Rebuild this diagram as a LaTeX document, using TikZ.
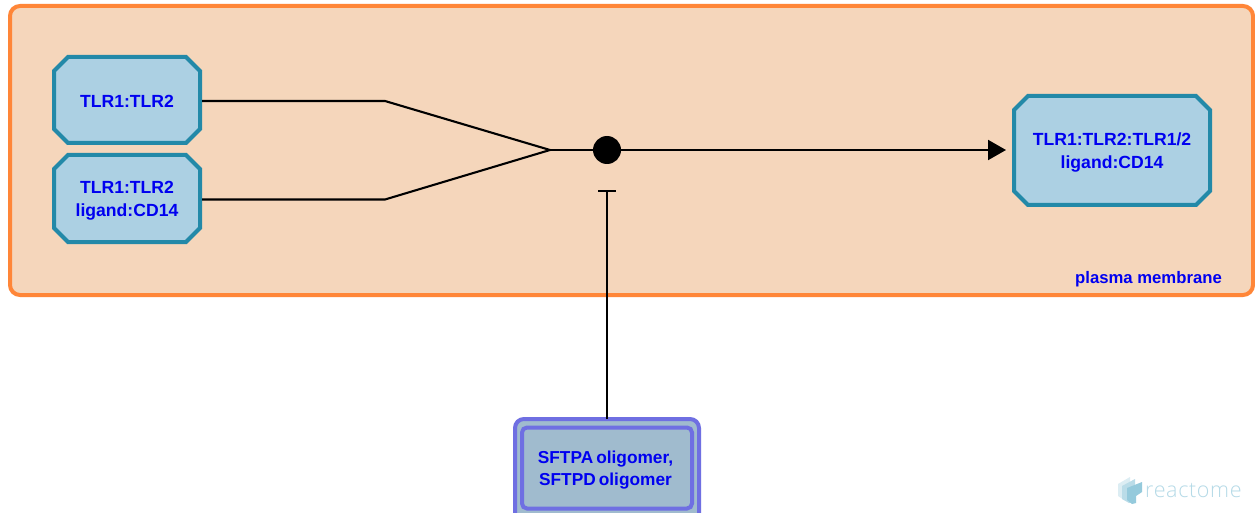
\documentclass[tikz,border=0pt]{standalone}
\usepackage{fontspec}
\setmainfont{Liberation Sans}
\newfontfamily\logofont[LetterSpace=3]{Open Sans Light}
\usetikzlibrary{shapes.misc,arrows.meta}
\definecolor{memfill}{HTML}{F5D6BB}
\definecolor{memline}{HTML}{FF8638}
\definecolor{cxfill}{HTML}{ACD0E3}
\definecolor{cxline}{HTML}{2389A8}
\definecolor{setfill}{HTML}{A0BBCE}
\definecolor{setline}{HTML}{6F6FE2}
\definecolor{lab}{HTML}{0000F0}
\definecolor{logoa}{HTML}{DCEDF3}
\definecolor{logob}{HTML}{BADCE8}
\definecolor{logoc}{HTML}{95CADC}
\newcommand\dropstrut[1]{\rule{0pt}{#1}}
\tikzset{
  x=1pt,y=-1pt,
  membrane/.style={draw=memline,fill=memfill,line width=4pt,rounded corners=10pt,minimum width=1243pt,minimum height=289pt,anchor=north west,inner sep=0pt,outer sep=0pt},
  complexbox/.style={chamfered rectangle,chamfered rectangle xsep=7.5pt,chamfered rectangle ysep=6.5pt,draw=cxline,fill=cxfill,line width=4pt,inner sep=0pt,outer sep=2pt,align=center,font=\fontsize{17.6}{22.5}\selectfont\bfseries,text=lab},
  setbox/.style={draw=setline,fill=setfill,line width=4pt,rounded corners=9pt,inner sep=0pt,outer sep=0pt,anchor=north west},
  setin/.style={draw=setline,line width=4pt,rounded corners=5pt,inner sep=0pt,outer sep=0pt,align=center,font=\fontsize{17.3}{22}\selectfont\bfseries,text=lab,anchor=north west},
  link/.style={draw=black,line width=2.1pt},
  junction/.style={circle,fill=black,minimum size=28pt,inner sep=0pt,outer sep=0pt},
  complabel/.style={font=\fontsize{16.7}{20}\selectfont\bfseries,text=lab,inner sep=0pt,anchor=base east}
}
\begin{document}
\begin{tikzpicture}
\useasboundingbox (0,0) rectangle (1255,513);
\clip (0,0) rectangle (1255,513);
\fill[white] (0,0) rectangle (1255,513);
\node[membrane] (pm) at (10,6) {};
\node[complabel] (pmlabel) at (1222,283) {plasma membrane};
\node[complexbox,minimum width=146pt,minimum height=86pt] (a) at (127,100) {\dropstrut{15.5pt}TLR1:TLR2};
\node[complexbox,minimum width=146pt,minimum height=87pt] (b) at (127,198.5) {\dropstrut{17pt}TLR1:TLR2\\ligand:CD14};
\node[complexbox,minimum width=196pt,minimum height=109pt] (c) at (1112,150.5) {\dropstrut{17pt}TLR1:TLR2:TLR1/2\\ligand:CD14};
\node[junction] (j) at (607,150) {};
\coordinate (bend1) at (385,101);
\coordinate (bend2) at (385,199.5);
\coordinate (meet) at (550,150);
\coordinate (tip) at (1006,150);
\coordinate (bar) at (607,191);
\node[setbox,minimum width=184pt,minimum height=110pt] (s) at (515,419) {};
\node[setin,minimum width=170pt,minimum height=81pt] (si) at (522,427.5) {\dropstrut{17pt}SFTPA\hspace{3pt}oligomer,\hspace*{3pt}\\SFTPD\hspace{3pt}oligomer\hspace*{3pt}};
\draw[link,line join=miter] (a.east |- bend1) -- (bend1) -- (meet) -- (bend2) -- (b.east |- bend2);
\draw[link] (meet) -- (j);
\draw[link,-{Triangle[length=18pt,width=20pt]}] (j) -- (tip);
\draw[link] (s.north -| bar) -- (bar);
\draw[link] ([xshift=-9pt]bar) -- ([xshift=9pt]bar);
% logo
\fill[logoa] (1118,484) -- (1130,477) -- (1130,498) -- (1124,500) -- (1118,496) -- cycle;
\fill[logob] (1122,486) -- (1135,479) -- (1135,501) -- (1129,503) -- (1122,499) -- cycle;
\fill[logoc] (1127,488) -- (1142,482) -- (1142,492) -- (1136,496) -- (1136,503) -- (1132,504) -- (1127,500) -- cycle;
\node[inner sep=0pt,anchor=base west,text=logoc!70,font=\logofont\fontsize{21.5}{21.5}\selectfont] (logo) at (1145,497) {reactome};
\end{tikzpicture}
\end{document}
